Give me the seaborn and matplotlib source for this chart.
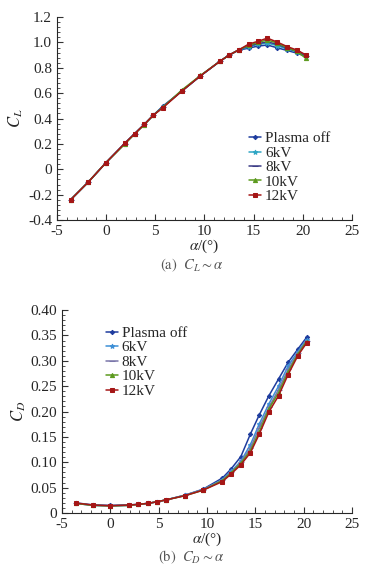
import numpy as np
import pandas as pd
import matplotlib
matplotlib.use("Agg")
import matplotlib.pyplot as plt
import seaborn as sns
from matplotlib.ticker import MultipleLocator, AutoMinorLocator, FuncFormatter

sns.set_style("ticks")
plt.rcParams['font.family'] = ['Liberation Serif', 'Noto Sans CJK SC', 'DejaVu Sans']
plt.rcParams['mathtext.fontset'] = 'stix'
plt.rcParams['axes.unicode_minus'] = False

# angle of attack (deg)
alpha = [-3.6, -1.8, 0, 1.9, 2.9, 3.9, 4.8, 5.8, 7.7, 9.6,
         11.6, 12.5, 13.5, 14.5, 15.4, 16.4, 17.4, 18.4, 19.4, 20.3]

series = ["Plasma off", "6kV", "8kV", "10kV", "12kV"]

# lift coefficient
cl_off = [-0.24, -0.10, 0.053, 0.205, 0.28, 0.355, 0.426, 0.50, 0.616, 0.737,
          0.853, 0.90, 0.94, 0.955, 0.971, 0.98, 0.958, 0.937, 0.916, 0.89]
cl_6 = [-0.24, -0.10, 0.053, 0.203, 0.28, 0.355, 0.426, 0.495, 0.618, 0.737,
        0.853, 0.90, 0.942, 0.965, 0.985, 0.995, 0.975, 0.948, 0.925, 0.888]
cl_8 = [-0.24, -0.10, 0.053, 0.203, 0.28, 0.355, 0.426, 0.492, 0.618, 0.737,
        0.853, 0.90, 0.942, 0.972, 0.99, 1.005, 0.985, 0.955, 0.93, 0.892]
cl_10 = [-0.24, -0.10, 0.053, 0.198, 0.278, 0.352, 0.426, 0.49, 0.625, 0.74,
         0.853, 0.90, 0.942, 0.978, 1.0, 1.02, 0.995, 0.96, 0.93, 0.876]
cl_12 = [-0.24, -0.10, 0.053, 0.205, 0.28, 0.355, 0.426, 0.487, 0.616, 0.737,
         0.853, 0.90, 0.942, 0.987, 1.008, 1.034, 1.003, 0.968, 0.94, 0.903]

# drag coefficient
cd_off = [0.020, 0.016, 0.015, 0.016, 0.017, 0.019, 0.022, 0.026, 0.035, 0.047,
          0.069, 0.087, 0.111, 0.156, 0.193, 0.231, 0.264, 0.297, 0.323, 0.346]
cd_6 = [0.019, 0.015, 0.014, 0.015, 0.017, 0.019, 0.022, 0.026, 0.035, 0.046,
        0.066, 0.082, 0.102, 0.135, 0.175, 0.215, 0.250, 0.290, 0.318, 0.342]
cd_8 = [0.019, 0.015, 0.014, 0.015, 0.017, 0.019, 0.022, 0.026, 0.035, 0.046,
        0.065, 0.080, 0.100, 0.128, 0.168, 0.208, 0.243, 0.283, 0.315, 0.340]
cd_10 = [0.019, 0.015, 0.014, 0.015, 0.017, 0.019, 0.022, 0.026, 0.034, 0.045,
         0.064, 0.079, 0.098, 0.123, 0.160, 0.205, 0.237, 0.278, 0.313, 0.338]
cd_12 = [0.0197, 0.0157, 0.0144, 0.0157, 0.017, 0.019, 0.022, 0.026, 0.034, 0.045,
         0.062, 0.077, 0.095, 0.119, 0.155, 0.199, 0.231, 0.273, 0.310, 0.335]

cl_all = [cl_off, cl_6, cl_8, cl_10, cl_12]
cd_all = [cd_off, cd_6, cd_8, cd_10, cd_12]

rows = []
for name, cl, cd in zip(series, cl_all, cd_all):
    for a, l, d in zip(alpha, cl, cd):
        rows.append({"alpha": a, "CL": l, "CD": d, "case": name})
df = pd.DataFrame(rows)

colors_top = {"Plasma off": "#1e3c9e", "6kV": "#2fa6c4", "8kV": "#3c3c86",
              "10kV": "#5c9a1e", "12kV": "#a51616"}
colors_bot = {"Plasma off": "#1e3c9e", "6kV": "#3d8fd6", "8kV": "#7a76aa",
              "10kV": "#5c9a1e", "12kV": "#a51616"}
markers = {"Plasma off": "D", "6kV": "*", "8kV": "_", "10kV": "^", "12kV": "s"}
msizes = {"Plasma off": 2.2, "6kV": 3.5, "8kV": 4, "10kV": 3, "12kV": 3.4}

fig = plt.figure(figsize=(3.67, 5.70), dpi=100)
ax1 = fig.add_axes([0.155, 0.614, 0.804, 0.356])
ax2 = fig.add_axes([0.169, 0.100, 0.790, 0.356])

for name in series:
    sub = df[df["case"] == name]
    sns.lineplot(x="alpha", y="CL", data=sub, ax=ax1, color=colors_top[name],
                 marker=markers[name], markersize=msizes[name], linewidth=1.1,
                 markeredgecolor=colors_top[name], label=name)
    sns.lineplot(x="alpha", y="CD", data=sub, ax=ax2, color=colors_bot[name],
                 marker=markers[name], markersize=msizes[name], linewidth=1.1,
                 markeredgecolor=colors_bot[name], label=name)

def fmt_cl(v, pos):
    return "0" if abs(v) < 1e-9 else "%.1f" % v

def fmt_cd(v, pos):
    return "0" if abs(v) < 1e-9 else "%.2f" % v

for ax in (ax1, ax2):
    ax.set_xlim(-5, 25)
    ax.xaxis.set_major_locator(MultipleLocator(5))
    ax.xaxis.set_minor_locator(AutoMinorLocator(5))
    ax.yaxis.set_minor_locator(AutoMinorLocator(5))
    ax.tick_params(which="both", direction="in", labelsize=11, color="#333333")
    ax.tick_params(which="major", length=4)
    ax.tick_params(which="minor", length=2)
    for s in ("top", "right"):
        ax.spines[s].set_visible(False)
    ax.set_xlabel(r"$\alpha$/(°)", fontsize=11, labelpad=0)
    ax.grid(False)

ax1.set_ylim(-0.4, 1.2)
ax1.yaxis.set_major_locator(MultipleLocator(0.2))
ax1.yaxis.set_major_formatter(FuncFormatter(fmt_cl))
ax1.set_ylabel(r"$C_L$", fontsize=12, labelpad=2)

ax2.set_ylim(0, 0.40)
ax2.yaxis.set_major_locator(MultipleLocator(0.05))
ax2.yaxis.set_major_formatter(FuncFormatter(fmt_cd))
ax2.set_ylabel(r"$C_D$", fontsize=12, labelpad=2)

ax1.legend(loc="upper left", bbox_to_anchor=(0.63, 0.465), frameon=False,
           fontsize=11, handlelength=0.8, handletextpad=0.25, labelspacing=0.05,
           borderaxespad=0)
ax2.legend(loc="upper left", bbox_to_anchor=(0.13, 0.95), frameon=False,
           fontsize=11, handlelength=0.8, handletextpad=0.25, labelspacing=0.05,
           borderaxespad=0)

fig.text(0.523, 0.535, r"$\mathrm{(a)}\ \ C_L\sim\alpha$", ha="center", va="center",
         fontsize=10.5, color="#555555")
fig.text(0.52, 0.023, r"$\mathrm{(b)}\ \ C_D\sim\alpha$", ha="center", va="center",
         fontsize=10.5, color="#555555")

fig.savefig("out.png", dpi=100)
